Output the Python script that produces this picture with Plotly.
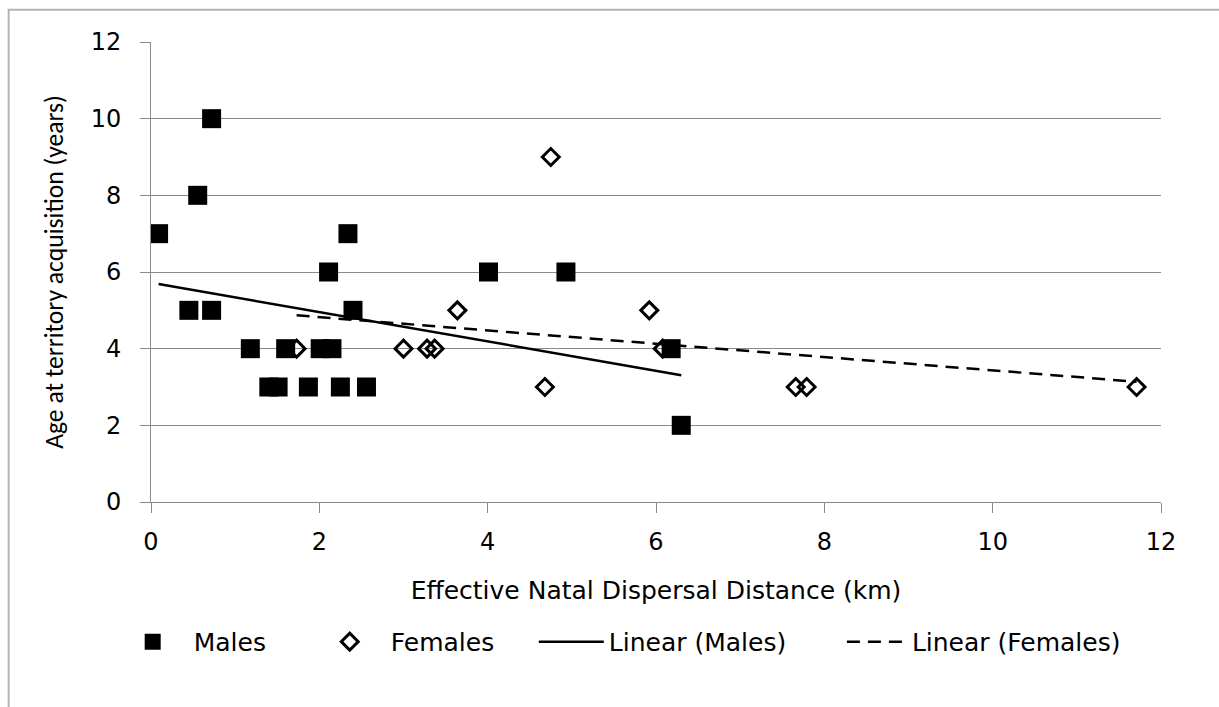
import numpy as np
import plotly.graph_objects as go

# ---- data ----
males_x = [0.09, 0.45, 0.555, 0.72, 0.72, 1.18, 1.40, 1.51, 1.60, 1.87, 2.01, 2.11,
           2.15, 2.25, 2.34, 2.40, 2.56, 4.01, 4.93, 6.18, 6.30]
males_y = [7, 5, 8, 10, 5, 4, 3, 3, 4, 3, 4, 6,
           4, 3, 7, 5, 3, 6, 6, 4, 2]
females_x = [1.73, 3.00, 3.28, 3.37, 3.64, 4.68, 4.75, 5.92, 6.08, 7.66, 7.79, 11.71]
females_y = [4, 4, 4, 4, 5, 3, 9, 5, 4, 3, 3, 3]

x_ticks = [0, 2, 4, 6, 8, 10, 12]
y_ticks = [0, 2, 4, 6, 8, 10, 12]

x_title = "Effective Natal Dispersal Distance (km)"
y_title = "Age at territory acquisition (years)"

WIDE = "'DejaVu Sans', Verdana, sans-serif"
NARROW = "Carlito, Calibri, Lato, sans-serif"
GRID = "#8a8a8a"


def linear_fit(xs, ys):
    xs = np.asarray(xs, float)
    ys = np.asarray(ys, float)
    slope, intercept = np.polyfit(xs, ys, 1)
    lx = np.array([xs.min(), xs.max()])
    return lx, slope * lx + intercept


mlx, mly = linear_fit(males_x, males_y)
flx, fly = linear_fit(females_x, females_y)

# plot-area pixel box
L, R, T, B = 151.3, 1161.0, 41.7, 502.0
def px_to_paper_x(p):
    return (p - L) / (R - L)
def px_to_paper_y(p):
    return (B - p) / (B - T)

fig = go.Figure()
fig.add_trace(go.Scatter(
    x=females_x, y=females_y, mode="markers", name="Females", legend="legend2",
    marker=dict(symbol="diamond-open", size=13, color="black", line=dict(width=3, color="black")),
))
fig.add_trace(go.Scatter(
    x=males_x, y=males_y, mode="markers", name="Males", legend="legend",
    marker=dict(symbol="square", size=19, color="black", line=dict(width=0)),
))
fig.add_trace(go.Scatter(
    x=mlx, y=mly, mode="lines", name="Linear (Males)", legend="legend3",
    line=dict(color="black", width=2.5),
))
fig.add_trace(go.Scatter(
    x=flx, y=fly, mode="lines", name="Linear (Females)", legend="legend4",
    line=dict(color="black", width=2.5, dash="13px,8px"),
))

# outer chart border (extends beyond the right/bottom of the picture)
fig.add_shape(type="rect", xref="paper", yref="paper",
              x0=px_to_paper_x(9), x1=px_to_paper_x(1230),
              y0=px_to_paper_y(720), y1=px_to_paper_y(9.5),
              line=dict(color="#b3b3b3", width=2), fillcolor="rgba(0,0,0,0)", layer="below")

LEG_Y = px_to_paper_y(642)
def leg(px_left, itemwidth=30):
    return dict(orientation="h", x=px_to_paper_x(px_left), xanchor="left",
                y=LEG_Y, yanchor="middle", font=dict(family=WIDE, size=25, color="black"),
                itemwidth=itemwidth, bgcolor="rgba(0,0,0,0)", borderwidth=0)

fig.update_layout(
    width=1219, height=707,
    margin=dict(l=L, r=1219 - R, t=T, b=707 - B, autoexpand=False),
    paper_bgcolor="white", plot_bgcolor="white",
    font=dict(family=WIDE, size=24, color="black"),
    showlegend=True,
    legend=leg(112, 72),
    legend2=leg(309, 72),
    legend3=leg(534, 65),
    legend4=leg(842, 60),
)
fig.update_xaxes(
    range=[0, 12], tickvals=x_ticks, ticktext=[str(v) for v in x_ticks],
    showgrid=False, zeroline=False, showline=True, linecolor=GRID, linewidth=1,
    ticks="outside", ticklen=10, tickcolor=GRID, tickwidth=1,
    tickfont=dict(family=WIDE, size=24), ticklabelstandoff=8,
    title=dict(text=x_title, font=dict(family=WIDE, size=25), standoff=26),
)
fig.update_yaxes(
    range=[0, 12], tickvals=y_ticks, ticktext=[str(v) for v in y_ticks],
    showgrid=True, gridcolor=GRID, gridwidth=1, zeroline=False,
    showline=True, linecolor=GRID, linewidth=1,
    ticks="outside", ticklen=10, tickcolor=GRID, tickwidth=1,
    tickfont=dict(family=WIDE, size=24), ticklabelstandoff=14,
    title=dict(text=y_title, font=dict(family=NARROW, size=25.6), standoff=19),
)

fig.write_html("out.html")
